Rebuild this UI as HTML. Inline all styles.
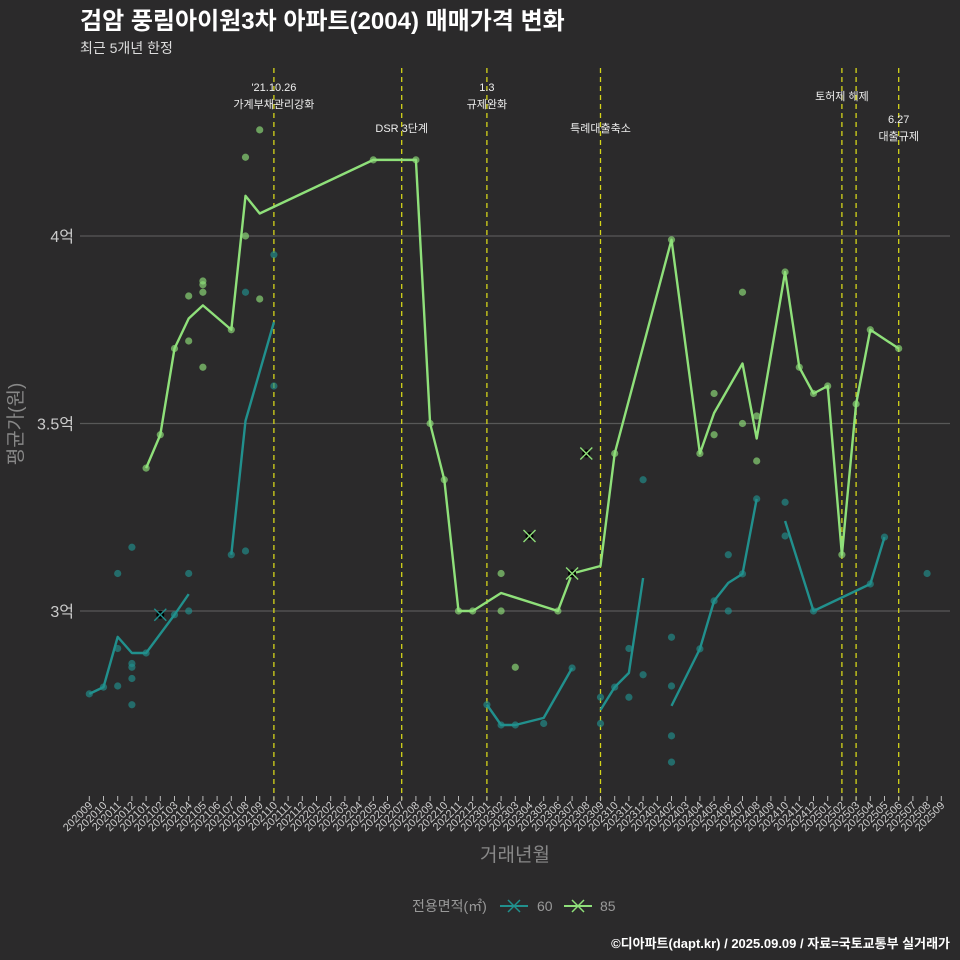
<!DOCTYPE html>
<html><head><meta charset="utf-8">
<style>
html,body{margin:0;padding:0;background:#2b2a2b;}
svg{display:block;font-family:"Liberation Sans","Noto Sans CJK KR",sans-serif;}
</style></head>
<body>
<svg id="chart" width="960" height="960" viewBox="0 0 960 960">
<rect width="960" height="960" fill="#2b2a2b"/>
<text x="80" y="29" fill="#ffffff" font-size="24" font-weight="bold">검암 풍림아이원3차 아파트(2004) 매매가격 변화</text>
<text x="80" y="53" fill="#dddddd" font-size="14">최근 5개년 한정</text>
<g id="grid"></g>
<g id="yticks"></g>
<g id="events"></g>
<g id="series"></g>
<g id="xticks"></g>
<text transform="translate(22,424) rotate(-90)" text-anchor="middle" fill="#888" font-size="19">평균가(원)</text>
<text x="515" y="861" text-anchor="middle" fill="#888" font-size="19">거래년월</text>
<g>
<text x="412" y="911" fill="#999" font-size="14">전용면적(㎡)</text>
<g>
<line x1="500" y1="906" x2="528" y2="906" stroke="#21908d" stroke-width="2"/>
<path d="M508 900 L520 912 M520 900 L508 912" stroke="#21908d" stroke-width="1.5"/>
<text x="537" y="911" fill="#999" font-size="14">60</text></g>
<g>
<line x1="564" y1="906" x2="592" y2="906" stroke="#8fe07a" stroke-width="2"/>
<path d="M572 900 L584 912 M584 900 L572 912" stroke="#8fe07a" stroke-width="1.5"/>
<text x="600" y="911" fill="#999" font-size="14">85</text></g>
</g>
<text x="950" y="948" text-anchor="end" fill="#ffffff" font-size="13" font-weight="bold">©디아파트(dapt.kr) / 2025.09.09 / 자료=국토교통부 실거래가</text>
</svg>
<script>
const months = [];
for (let y = 2020, m = 9; months.length < 61; ) { months.push(String(y) + String(m).padStart(2, '0')); m++; if (m > 12) { m = 1; y++; } }
const yTickValues = [3, 3.5, 4];
const yTickLabels = ['3억', '3.5억', '4억'];
// series 85: [month index, value(억)]
const line85 = [[4,3.381],[5,3.47],[6,3.70],[7,3.78],[8,3.815],[10,3.75],[11,4.107],[12,4.06],[20,4.203],[23,4.203],[24,3.50],[25,3.35],[26,3.00],[27,3.00],[29,3.048],[33,3.00],[34,3.10],[36,3.12],[37,3.42],[41,3.99],[43,3.42],[44,3.528],[46,3.66],[47,3.46],[49,3.904],[50,3.65],[51,3.58],[52,3.60],[53,3.15],[54,3.552],[55,3.75],[57,3.70]];
const dots85 = [[11,4.21],[11,4.0],[12,4.283],[12,3.832],[7,3.84],[7,3.72],[8,3.88],[8,3.87],[8,3.85],[8,3.65],[6,3.70],[4,3.381],[5,3.47],[10,3.75],[24,3.50],[25,3.35],[26,3.0],[27,3.0],[29,3.10],[29,3.0],[30,2.85],[33,3.0],[37,3.42],[41,3.99],[43,3.42],[44,3.58],[44,3.47],[46,3.85],[46,3.5],[47,3.52],[47,3.40],[49,3.904],[50,3.65],[51,3.58],[52,3.60],[53,3.15],[54,3.552],[55,3.75],[57,3.70],[20,4.203],[23,4.203]];
const cross85 = [[31,3.2],[34,3.10],[35,3.42]];
// series 60 (segments)
const line60a = [[0,2.779],[1,2.797],[2,2.931],[3,2.888],[4,2.888],[6,2.99],[7,3.045]];
const line60b = [[10,3.15],[11,3.507],[13,3.77]];
const line60c = [[28,2.75],[29,2.696],[30,2.696],[32,2.715],[34,2.848]];
const line60d = [[36,2.736],[37,2.797],[38,2.835],[39,3.088]];
const line60e = [[41,2.747],[43,2.899],[44,3.027],[45,3.075],[46,3.099],[47,3.299]];
const line60f = [[49,3.24],[51,3.0],[55,3.072],[56,3.197]];
const dots60 = [[0,2.779],[1,2.797],[2,3.10],[2,2.80],[2,2.90],[3,3.17],[3,2.86],[3,2.85],[3,2.82],[3,2.75],[4,2.888],[6,2.99],[7,3.10],[7,3.0],[10,3.15],[11,3.85],[11,3.16],[13,3.95],[13,3.6],[28,2.75],[29,2.696],[30,2.696],[32,2.7],[34,2.848],[36,2.77],[36,2.70],[37,2.797],[38,2.9],[38,2.77],[39,3.35],[39,2.83],[41,2.93],[41,2.80],[41,2.667],[41,2.597],[43,2.899],[44,3.027],[45,3.15],[45,3.0],[46,3.099],[47,3.299],[49,3.29],[49,3.20],[51,3.0],[55,3.072],[56,3.197],[59,3.10]];
const cross60 = [[5,2.99]];
const eventMonths = [13, 22, 28, 36, 53, 54, 57];
const eventLabels = [["'21.10.26","가계부채관리강화"],["DSR 3단계"],["1.3","규제완화"],["특례대출축소"],["토허제 해제"],[],["6.27","대출규제"]];
const eventLabelY = [91, 132, 91, 132, 100, 0, 123];

const NS = 'http://www.w3.org/2000/svg';
const X = i => 89.3 + i * 14.2;
const Y = v => 611 - (v - 3) * 375;
function mk(tag, attrs, parent, txt) { const e = document.createElementNS(NS, tag); for (const k in attrs) e.setAttribute(k, attrs[k]); if (txt !== undefined) e.textContent = txt; parent.appendChild(e); return e; }
const grid = document.getElementById('grid'), yt = document.getElementById('yticks'), ev = document.getElementById('events'), se = document.getElementById('series'), xt = document.getElementById('xticks');

yTickValues.forEach((v, k) => {
  const l = mk('line', {x1: 80, x2: 950, y1: Y(v), y2: Y(v), stroke: '#585858', 'stroke-width': 1.3}, grid);
  
  
  const t = mk('text', {x: 74, y: Y(v) + 6, 'text-anchor': 'end', fill: '#ccc', 'font-size': 16}, yt, yTickLabels[k]);
  
  
});
months.forEach((m, i) => {
  const x = X(i);
  mk('line', {x1: x, x2: x, y1: 796, y2: 801, stroke: '#bbb', 'stroke-width': 1}, xt);
  const t = mk('text', {transform: `translate(${x + 4},${806}) rotate(-45)`, 'text-anchor': 'end', fill: '#ccc', 'font-size': 11}, xt, m);
  
  
});
eventMonths.forEach((mi, k) => {
  const x = X(mi);
  const l = mk('line', {x1: x, x2: x, y1: 68, y2: 800, stroke: '#d4d41a', 'stroke-width': 1.3, 'stroke-dasharray': '5,4'}, ev);
  
  
  eventLabels[k].forEach((s, j) => {
    const t = mk('text', {x: x, y: eventLabelY[k] + j * 17, 'text-anchor': 'middle', fill: '#eee', 'font-size': 11}, ev, s);
    
    
  });
});
function drawDots(arr, color, name) {
  arr.forEach(p => {
    const c = mk('circle', {cx: X(p[0]), cy: Y(p[1]), r: 3.6, fill: color, 'fill-opacity': 0.65}, se);
    
    
  });
}
function drawLine(arr, color, name) {
  const p = mk('polyline', {points: arr.map(q => X(q[0]) + ',' + Y(q[1])).join(' '), fill: 'none', stroke: color, 'stroke-width': 2.4, 'stroke-linejoin': 'round'}, se);
  
  
}
function drawCross(arr, color, name) {
  arr.forEach(q => {
    const x = X(q[0]), y = Y(q[1]);
    mk('circle', {cx: x, cy: y, r: 4, fill: '#000'}, se);
    const c = mk('path', {d: `M${x-6} ${y-6} L${x+6} ${y+6} M${x+6} ${y-6} L${x-6} ${y+6}`, stroke: color, 'stroke-width': 1.4}, se);
    
    
  });
}
const C60 = '#21908d', C85 = '#8fe07a';
drawDots(dots60, C60, 'point-60');
drawDots(dots85, C85, 'point-85');
[line60a, line60b, line60c, line60d, line60e, line60f].forEach(s => drawLine(s, C60, 'line-60'));
drawLine(line85, C85, 'line-85');
drawCross(cross60, C60, 'cross-60');
drawCross(cross85, C85, 'cross-85');
</script>
</body></html>
